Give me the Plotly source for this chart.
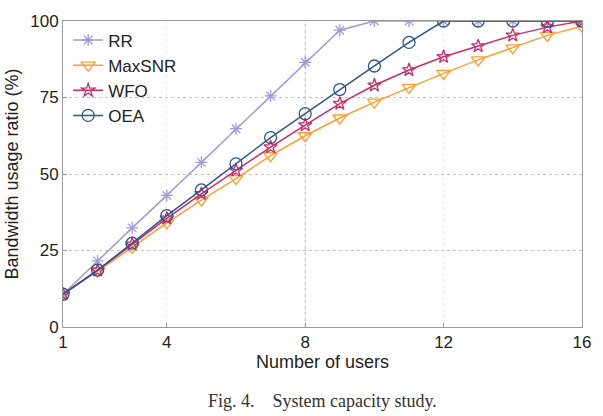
import plotly.graph_objects as go

users = list(range(1, 17))
rr =     [10.7, 21.6, 32.4, 43.0, 53.8, 64.8, 75.5, 86.5, 97.0, 100, 100, 100, 100, 100, 100, 100]
maxsnr = [10.7, 18.3, 26.0, 34.0, 41.5, 48.5, 56.0, 62.5, 68.3, 73.5, 78.3, 82.9, 87.3, 91.2, 95.3, 98.3]
wfo =    [10.7, 18.5, 27.0, 35.5, 43.5, 51.2, 58.8, 66.0, 73.0, 79.0, 84.0, 88.3, 91.8, 95.3, 98.0, 100]
oea =    [10.7, 18.6, 27.4, 36.4, 44.8, 53.3, 61.9, 69.7, 77.6, 85.3, 93.0, 100, 100, 100, 100, 100]

series = [
    ("RR", rr, "#a29bd9", "asterisk-open", 10),
    ("MaxSNR", maxsnr, "#ff9d2e", "triangle-down-open", 12),
    ("WFO", wfo, "#cc2b68", "star-open", 10),
    ("OEA", oea, "#2c5590", "circle-open", 12),
]

FONT = "Liberation Sans, Arial"

fig = go.Figure()
for name, vals, col, sym, sz in series:
    fig.add_trace(go.Scatter(
        x=users, y=vals, name=name, mode="lines+markers",
        line=dict(color=col, width=1.5),
        marker=dict(symbol=sym, size=sz, color=col, line=dict(color=col, width=1.3)),
    ))

axis_common = dict(
    showline=True, linecolor="#9a9a9a", linewidth=1, mirror=True,
    ticks="inside", ticklen=4, tickcolor="#9a9a9a",
    showgrid=True, griddash="dot", gridwidth=1,
    zeroline=False,
    tickfont=dict(family=FONT, size=17, color="#222"),
)

fig.update_layout(
    width=603, height=416,
    margin=dict(l=62, r=14, t=21, b=89),
    paper_bgcolor="white", plot_bgcolor="white",
    showlegend=True,
    legend=dict(x=0.01, y=0.995, xanchor="left", yanchor="top",
                bgcolor="rgba(255,255,255,0)", borderwidth=0,
                font=dict(family=FONT, size=17, color="#222"),
                tracegroupgap=0, itemwidth=30),
    xaxis=dict(range=[1, 16], tickvals=[1, 4, 8, 12, 16], gridcolor="#ececec",
               title=dict(text="Number of users", standoff=0,
                          font=dict(family=FONT, size=18, color="#222")),
               **axis_common),
    yaxis=dict(range=[0, 100], tickvals=[0, 25, 50, 75, 100], gridcolor="#c4c4c4",
               title=dict(text="Bandwidth usage ratio (%)", standoff=6,
                          font=dict(family=FONT, size=18, color="#222")),
               **axis_common),
)

# stronger dotted grid line at x=8, as in the reference
fig.add_vline(x=8, line=dict(color="#b8b8b8", width=1, dash="dot"), layer="below")

fig.add_annotation(
    text="Fig. 4.&nbsp;&nbsp;&nbsp;&nbsp;System capacity study.",
    xref="paper", yref="paper", x=0.5, y=-0.242, xanchor="center", yanchor="middle",
    showarrow=False,
    font=dict(family="Liberation Serif, Times New Roman", size=18, color="#333"),
)

fig.write_html("out.html")
